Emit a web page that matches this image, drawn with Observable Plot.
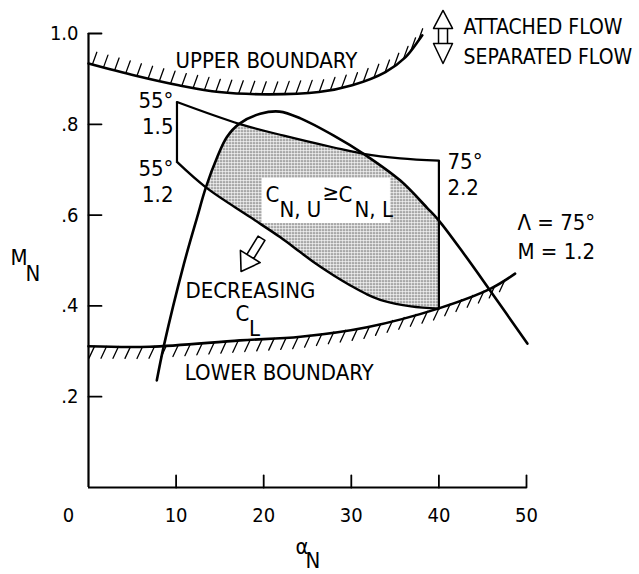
<!DOCTYPE html>
<html>
<head>
<meta charset="utf-8">
<script src="https://cdn.jsdelivr.net/npm/d3@7"></script>
<script src="https://cdn.jsdelivr.net/npm/@observablehq/plot@0.6"></script>
<style>
html, body { margin: 0; padding: 0; background: #fff; }
#chart { width: 639px; height: 574px; }
</style>
</head>
<body>
<div id="chart"></div>
<script>
// ---------- data ----------
const xTicks = [10, 20, 30, 40, 50];
const xTickLabels = ["0", "10", "20", "30", "40", "50"];
const xTickLabelValues = [0, 10, 20, 30, 40, 50];
const yTicks = [0.2, 0.4, 0.6, 0.8, 1.0];
const yTickLabels = [".2", ".4", ".6", ".8", "1.0"];

// [alpha_N, M_N]
const upperBoundary = [[0, 0.934], [5.4, 0.907], [10.3, 0.886], [14.9, 0.871], [20.6, 0.866], [26.3, 0.871], [30.1, 0.886], [33.9, 0.915], [36.2, 0.948], [37.7, 0.985], [38.1, 0.996]];
const lowerBoundary = [[0, 0.311], [7, 0.310], [17.3, 0.324], [24.2, 0.332], [31.8, 0.353], [39.9, 0.394], [45.9, 0.438], [48.7, 0.471]];
const archCurve = [[7.8, 0.236], [8.6, 0.312], [10.9, 0.493], [12.4, 0.595], [13.4, 0.661], [14.7, 0.728], [15.8, 0.772], [17.2, 0.801], [19.6, 0.823], [21.8, 0.828], [24.2, 0.813], [28.0, 0.775], [31.4, 0.735], [35.6, 0.676], [38.7, 0.615], [40.0, 0.588], [42.85, 0.515], [45.7, 0.438], [50.1, 0.317]];
const boxTop = [[10.1, 0.849], [17.2, 0.801], [22.3, 0.775], [28.0, 0.749], [31.4, 0.735], [35.6, 0.725], [40.0, 0.720]];
const boxBottom = [[10.1, 0.717], [13.4, 0.661], [18.5, 0.595], [21.9, 0.551], [24.2, 0.518], [26.1, 0.491], [28.0, 0.467], [29.9, 0.445], [31.85, 0.425], [33.7, 0.411], [36.8, 0.399], [40.0, 0.394]];
const boxSides = [{x: 10.1, y1: 0.717, y2: 0.849}, {x: 40.0, y1: 0.394, y2: 0.720}];
// region where C_N,U >= C_N,L (inside both the arch and the box)
const shadedRegion = [[13.4, 0.661], [14.7, 0.728], [15.8, 0.772], [17.2, 0.801], [22.3, 0.775], [28.0, 0.749], [31.4, 0.735], [35.6, 0.676], [38.7, 0.615], [40.0, 0.588], [40.0, 0.394], [36.8, 0.399], [33.7, 0.411], [31.85, 0.425], [29.9, 0.445], [28.0, 0.467], [26.1, 0.491], [24.2, 0.518], [21.9, 0.551], [18.5, 0.595], [13.4, 0.661]];

// annotations (data coordinates, baseline)
const labels = [
  {text: "UPPER BOUNDARY", x: 9.93, y: 0.9251, anchor: "start"},
  {text: "LOWER BOUNDARY", x: 11.0, y: 0.2357, anchor: "start"},
  {text: "DECREASING", x: 11.07, y: 0.4185, anchor: "start"},
  {text: "C", x: 16.78, y: 0.3678, anchor: "start"},
  {text: "L", x: 18.32, y: 0.3348, anchor: "start"},
  {text: "55°", x: 9.7, y: 0.837, anchor: "end"},
  {text: "1.5", x: 9.7, y: 0.7797, anchor: "end"},
  {text: "55°", x: 9.7, y: 0.6872, anchor: "end"},
  {text: "1.2", x: 9.7, y: 0.6278, anchor: "end"},
  {text: "75°", x: 40.98, y: 0.7026, anchor: "start"},
  {text: "2.2", x: 40.98, y: 0.6432, anchor: "start"},
  {text: "Λ = 75°", x: 48.97, y: 0.5661, anchor: "start"},
  {text: "M = 1.2", x: 48.97, y: 0.5044, anchor: "start"},
  {text: "M", x: -8.9, y: 0.489, anchor: "start"},
  {text: "N", x: -7.19, y: 0.4559, anchor: "start"},
  {text: "α", x: 23.63, y: -0.1454, anchor: "start"},
  {text: "N", x: 24.77, y: -0.1784, anchor: "start"},
  {text: "C", x: 20.21, y: 0.6278, anchor: "start"},
  {text: "N, U", x: 21.8, y: 0.5969, anchor: "start"},
  {text: "≥", x: 26.71, y: 0.6322, anchor: "start"},
  {text: "C", x: 28.54, y: 0.6278, anchor: "start"},
  {text: "N, L", x: 30.37, y: 0.5969, anchor: "start"}
];
const legendLabels = [
  {text: "ATTACHED FLOW", x: 42.81, y: 1.0},
  {text: "SEPARATED FLOW", x: 42.81, y: 0.9339}
];
const labelBoxes = [{x1: 19.86, x2: 34.47, y1: 0.5815, y2: 0.6806}];
const decreasingArrow = [{x: 19.75, y: 0.549, rotate: 211.6}];
const legendArrow = [{x: 40.47, y: 0.934, rotate: 0}];

// ---------- layout ----------
const W = 639, H = 574, ML = 88, MR = 113, MT = 33, MB = 87;
const kx = (W - ML - MR) / 50, ky = (H - MT - MB) / 1;
const FONT = '"DejaVu Sans Condensed","Liberation Sans Narrow","DejaVu Sans",sans-serif';

function hatchAlong(curve, spacing, offset) {
  const out = [];
  let carry = offset;
  for (let i = 0; i < curve.length - 1; i++) {
    const [x0, y0] = curve[i], [x1, y1] = curve[i + 1];
    const seg = Math.hypot((x1 - x0) * kx, (y1 - y0) * ky);
    let s = carry;
    while (s <= seg) {
      const t = s / seg;
      out.push({x: x0 + (x1 - x0) * t, y: y0 + (y1 - y0) * t});
      s += spacing;
    }
    carry = s - seg;
  }
  return out;
}

const lineShape = {draw(c, l) { c.moveTo(0, 0); c.lineTo(0, -l); }};
const decreasingShape = {draw(c, l) {
  const hl = 17.6, hw = 11.6, sw = 4;
  c.moveTo(-sw, -(l - hl)); c.lineTo(-sw, 0); c.lineTo(sw, 0); c.lineTo(sw, -(l - hl));
  c.moveTo(-hw, -(l - hl)); c.lineTo(0, -l); c.lineTo(hw, -(l - hl)); c.closePath();
}};
const legendShape = {draw(c, l) {
  const hw = 9.5, sw = 4.5, hdn = 20, hup = 18;
  c.moveTo(0, 0); c.lineTo(-hw, -hdn); c.lineTo(hw, -hdn); c.closePath();
  c.moveTo(0, -l); c.lineTo(-hw, -(l - hup)); c.lineTo(hw, -(l - hup)); c.closePath();
  c.moveTo(-sw, -hdn); c.lineTo(-sw, -(l - hup));
  c.moveTo(sw, -hdn); c.lineTo(sw, -(l - hup));
}};

const X = d => d[0], Y = d => d[1];

const svg = Plot.plot({
  width: W, height: H,
  marginLeft: ML, marginRight: MR, marginTop: MT, marginBottom: MB,
  x: {domain: [0, 50], axis: null},
  y: {domain: [0, 1], axis: null},
  style: {fontFamily: FONT, background: "white", color: "black", overflow: "visible"},
  marks: [
    Plot.line(shadedRegion, {x: X, y: Y, fill: "url(#stipple)", stroke: "none"}),
    Plot.rect(labelBoxes, {x1: "x1", x2: "x2", y1: "y1", y2: "y2", fill: "white"}),
    // box
    Plot.line(boxTop, {x: X, y: Y, curve: "catmull-rom", strokeWidth: 2.2}),
    Plot.line(boxBottom, {x: X, y: Y, curve: "catmull-rom", strokeWidth: 2.4}),
    Plot.ruleX(boxSides, {x: "x", y1: "y1", y2: "y2", strokeWidth: 2.2}),
    // arch
    Plot.line(archCurve, {x: X, y: Y, curve: "catmull-rom", strokeWidth: 2.6}),
    // boundaries
    Plot.line(upperBoundary, {x: X, y: Y, curve: "catmull-rom", strokeWidth: 2.6}),
    Plot.line(lowerBoundary, {x: X, y: Y, curve: "catmull-rom", strokeWidth: 2.6}),
    Plot.vector(hatchAlong(upperBoundary, 11.5, 4), {x: "x", y: "y", length: 13, rotate: 20, anchor: "start", shape: lineShape, stroke: "black", strokeWidth: 1.3, fill: "none"}),
    Plot.vector(hatchAlong(lowerBoundary, 12, 6), {x: "x", y: "y", length: 13, rotate: 205, anchor: "start", shape: lineShape, stroke: "black", strokeWidth: 1.3, fill: "none"}),
    // axes
    Plot.ruleX([0], {x: d => d, y1: () => 0, y2: () => 1, strokeWidth: 2.2}),
    Plot.ruleY([0], {y: d => d, x1: () => 0, x2: () => 50, strokeWidth: 2.2}),
    Plot.vector(yTicks, {x: () => 0, y: d => d, length: 13, rotate: 90, anchor: "start", shape: lineShape, stroke: "black", strokeWidth: 1.8, fill: "none"}),
    Plot.vector(xTicks, {x: d => d, y: () => 0, length: 12, rotate: 0, anchor: "start", shape: lineShape, stroke: "black", strokeWidth: 1.8, fill: "none"}),
    Plot.text(yTicks, {x: () => 0, y: d => d, text: (d, i) => yTickLabels[i], textAnchor: "end", lineAnchor: "middle", dx: -10, fontSize: 20}),
    Plot.text(xTickLabelValues, {filter: d => d !== 0, x: d => d, y: () => 0, text: d => xTickLabels[xTickLabelValues.indexOf(d)], textAnchor: "middle", lineAnchor: "bottom", dy: 34, fontSize: 20}),
    Plot.text(xTickLabelValues, {filter: d => d === 0, x: d => d, y: () => 0, text: d => xTickLabels[xTickLabelValues.indexOf(d)], textAnchor: "middle", lineAnchor: "bottom", dy: 34, dx: -20, fontSize: 20}),
    // arrows (constant pixel lengths)
    Plot.vector(decreasingArrow, {x: "x", y: "y", rotate: "rotate", length: 39, anchor: "start", shape: decreasingShape, stroke: "black", strokeWidth: 1.6, fill: "white"}),
    Plot.vector(legendArrow, {x: "x", y: "y", rotate: "rotate", length: 53, anchor: "start", shape: legendShape, stroke: "black", strokeWidth: 1.5, fill: "white"}),
    // labels
    Plot.text(labels, {filter: d => d.anchor === "start", x: "x", y: "y", text: "text", textAnchor: "start", lineAnchor: "bottom", fontSize: 22}),
    Plot.text(labels, {filter: d => d.anchor === "end", x: "x", y: "y", text: "text", textAnchor: "end", lineAnchor: "bottom", fontSize: 22}),
    Plot.text(legendLabels, {x: "x", y: "y", text: "text", textAnchor: "start", lineAnchor: "bottom", fontSize: 21})
  ]
});

const ns = "http://www.w3.org/2000/svg";
const defs = document.createElementNS(ns, "defs");
defs.innerHTML = '<pattern id="stipple" width="3" height="3" patternUnits="userSpaceOnUse"><rect width="3" height="3" fill="#f2f2f2"/><circle cx="1.5" cy="1.5" r="0.85" fill="#333"/></pattern>';
svg.insertBefore(defs, svg.firstChild);
document.getElementById("chart").appendChild(svg);
</script>
</body>
</html>
